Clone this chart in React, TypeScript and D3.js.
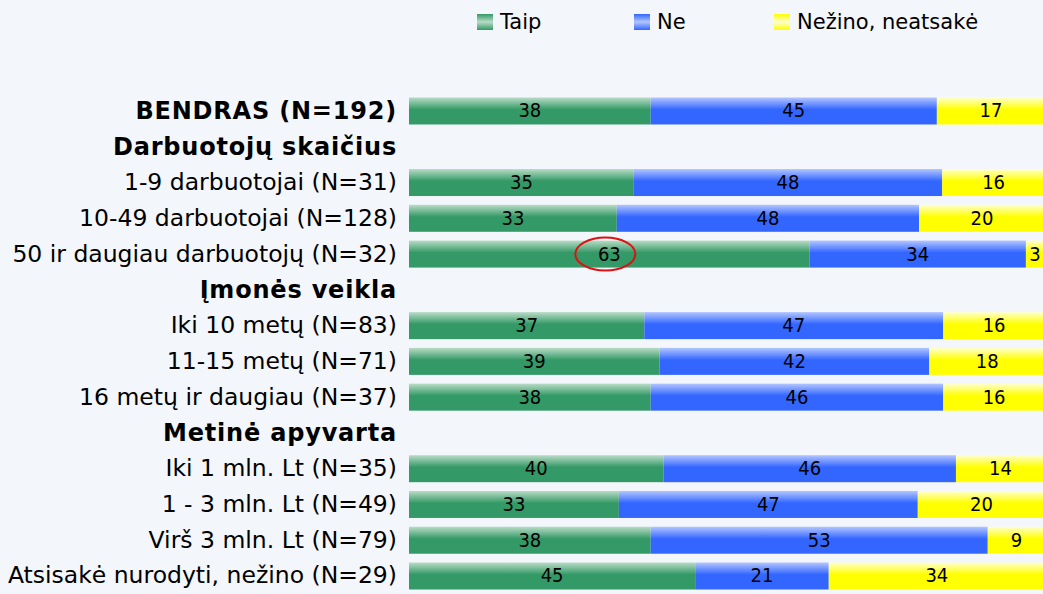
import React, { useEffect, useRef } from 'react';
import * as d3 from 'd3';

// row labels, headings have no values
const labels = [
  'BENDRAS (N=192)',
  'Darbuotojų skaičius',
  '1-9 darbuotojai (N=31)',
  '10-49 darbuotojai (N=128)',
  '50 ir daugiau darbuotojų (N=32)',
  'Įmonės veikla',
  'Iki 10 metų (N=83)',
  '11-15 metų (N=71)',
  '16 metų ir daugiau (N=37)',
  'Metinė apyvarta',
  'Iki 1 mln. Lt (N=35)',
  '1 - 3 mln. Lt (N=49)',
  'Virš 3 mln. Lt (N=79)',
  'Atsisakė nurodyti, nežino (N=29)',
];
const boldRows = [0, 1, 5, 9];

const taip = [38, null, 35, 33, 63, null, 37, 39, 38, null, 40, 33, 38, 45];
const ne = [45, null, 48, 48, 34, null, 47, 42, 46, null, 46, 47, 53, 21];
const nezino = [17, null, 16, 20, 3, null, 16, 18, 16, null, 14, 20, 9, 34];

const seriesNames = ['Taip', 'Ne', 'Nežino, neatsakė'];
const highlightRow = 4; // circled value

function App() {
  const svgRef = useRef<SVGSVGElement>(null);

  useEffect(() => {
    const width = 1043;
    const height = 594;
    const font = 'DejaVu Sans, sans-serif';
    const svg = d3.select(svgRef.current);
    svg.selectAll('*').remove();
    svg.attr('width', width).attr('height', height);

    const defs = svg.append('defs');
    const grads = [
      { id: 'gTaip', top: '#b9dcc6', base: '#339966' },
      { id: 'gNe', top: '#b3c6ff', base: '#3366ff' },
      { id: 'gNez', top: '#ffffd0', base: '#ffff00' },
    ];
    grads.forEach(g => {
      const lg = defs.append('linearGradient')
        .attr('id', g.id).attr('x1', 0).attr('y1', 0).attr('x2', 0).attr('y2', 1);
      lg.append('stop').attr('offset', '0%').attr('stop-color', g.top);
      lg.append('stop').attr('offset', '45%').attr('stop-color', g.base);
      lg.append('stop').attr('offset', '100%').attr('stop-color', g.base);
      // legend swatch: light in the middle
      const lg2 = defs.append('linearGradient')
        .attr('id', g.id + 'L').attr('x1', 0).attr('y1', 0).attr('x2', 0).attr('y2', 1);
      lg2.append('stop').attr('offset', '0%').attr('stop-color', g.base);
      lg2.append('stop').attr('offset', '50%').attr('stop-color', g.top);
      lg2.append('stop').attr('offset', '100%').attr('stop-color', g.base);
    });

    svg.append('rect')
      .attr('width', width)
      .attr('height', height)
      .attr('fill', '#f3f6fb');

    const x = d3.scaleLinear().domain([0, 100]).range([409, 1045]);
    const y = d3.scaleBand<number>()
      .domain(d3.range(labels.length))
      .range([93.1, 93.1 + labels.length * 35.77])
      .paddingInner(0.245)
      .paddingOuter(0.1225);

    const fills = ['url(#gTaip)', 'url(#gNe)', 'url(#gNez)'];
    const rows = labels.map((l, i) => ({ i, vals: [taip[i], ne[i], nezino[i]] as number[] }))
      .filter(d => d.vals[0] !== null);

    const g = svg.append('g');
    let highlightX = 0;
    rows.forEach(r => {
      const total = d3.sum(r.vals); // rounded values, bars span full width
      let acc = 0;
      r.vals.forEach((v, k) => {
        const x0 = x((acc / total) * 100);
        const x1 = x(((acc + v) / total) * 100);
        acc += v;
        g.append('rect')
          .attr('x', x0)
          .attr('y', y(r.i)!)
          .attr('width', x1 - x0)
          .attr('height', y.bandwidth())
          .attr('fill', fills[k]);
        const tx = Math.min((x0 + x1) / 2, 1035);
        if (r.i === highlightRow && k === 0) highlightX = tx;
        g.append('text')
          .attr('x', tx)
          .attr('y', y(r.i)! + y.bandwidth() / 2 + 1)
          .attr('dominant-baseline', 'middle')
          .attr('text-anchor', 'middle')
          .attr('font-family', 'DejaVu Sans Condensed, DejaVu Sans, sans-serif')
          .attr('font-size', 20)
          .attr('fill', '#000')
          .text(v);
      });
    });

    // category labels
    svg.append('g').selectAll('text')
      .data(labels)
      .enter()
      .append('text')
      .attr('x', 397)
      .attr('y', (d, i) => y(i)! + y.bandwidth() / 2 + 1)
      .attr('dominant-baseline', 'middle')
      .attr('text-anchor', 'end')
      .attr('font-family', font)
      .attr('font-size', (d, i) => boldRows.includes(i) ? 24 : 23.5)
      .attr('letter-spacing', (d, i) => boldRows.includes(i) ? 0.8 : 0)
      .attr('font-weight', (d, i) => boldRows.includes(i) ? 'bold' : 'normal')
      .attr('fill', '#000')
      .text(d => d);

    // red circle around the highlighted value
    svg.append('ellipse')
      .attr('cx', highlightX - 4)
      .attr('cy', y(highlightRow)! + y.bandwidth() / 2)
      .attr('rx', 30)
      .attr('ry', 16.5)
      .attr('fill', 'none')
      .attr('stroke', '#dd1111')
      .attr('stroke-width', 2);

    // legend
    const legendX = [477, 634, 774];
    const legend = svg.append('g');
    seriesNames.forEach((name, k) => {
      legend.append('rect')
        .attr('x', legendX[k])
        .attr('y', 14)
        .attr('width', 16)
        .attr('height', 16)
        .attr('fill', `url(#${grads[k].id}L)`);
      legend.append('text')
        .attr('x', legendX[k] + 23)
        .attr('y', 23)
        .attr('dominant-baseline', 'middle')
        .attr('font-family', font)
        .attr('font-size', 21)
        .attr('fill', '#000')
        .text(name);
    });
  }, []);

  return (
    <svg ref={svgRef} style={{ position: 'absolute', left: 0, top: 0 }}></svg>
  );
}

export default App;
